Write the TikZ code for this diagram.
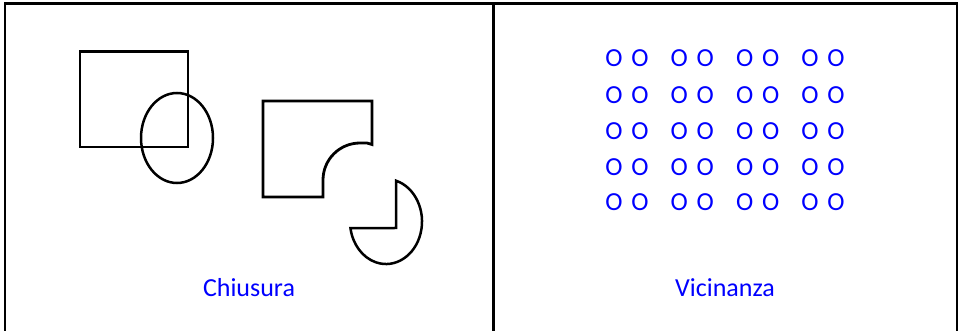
\documentclass[tikz,border=0pt]{standalone}
\usepackage{fontspec}
\setmainfont{Carlito}
\begin{document}
\begin{tikzpicture}[x=1pt,y=-1pt,
  frame/.style={line width=2.2pt},
  outline/.style={line width=2.8pt,line join=miter},
  lab/.style={font=\fontsize{26}{30}\selectfont,text=blue,inner sep=0pt}]
\useasboundingbox (0,0) rectangle (962,331);

% table frame with the two cells
\draw[frame] (5,331) -- (5,3.5) -- (957,3.5) -- (957,331);
\draw[frame] (493.5,3.5) -- (493.5,331);

% left cell: square overlapping an ellipse
\draw[outline] (80,51.5) rectangle (188,147);
\draw[outline,line width=2.5pt] (177,138) ellipse [x radius=36, y radius=45];

% square with a rounded bite taken out of its corner
\draw[outline] (263,101) -- (372,101) -- (372,144.5) -- (367,143) -- (360,143)
  arc[start angle=270,end angle=180,radius=37] -- (323,197) -- (263,197) -- cycle;

% ellipse with a missing quadrant
\draw[outline,line width=2.5pt] (396,228) -- (396,180.7)
  arc[start angle=-73.9,end angle=171.2,x radius=36,y radius=42.5] -- cycle;

\node[lab,anchor=base] (chiusura) at (249,297) {Chiusura};

% right cell: grid of letters grouped in pairs
\foreach [count=\r] \yy in {58.3,95,130.7,166.7,201.7}
  \foreach [count=\c] \xx in {614,640,679.3,705.3,744.7,770.7,810,836}
    \node[lab] (o-\r-\c) at (\xx,\yy) {O};

\node[lab,anchor=base] (vicinanza) at (725,297) {Vicinanza};
\end{tikzpicture}
\end{document}
